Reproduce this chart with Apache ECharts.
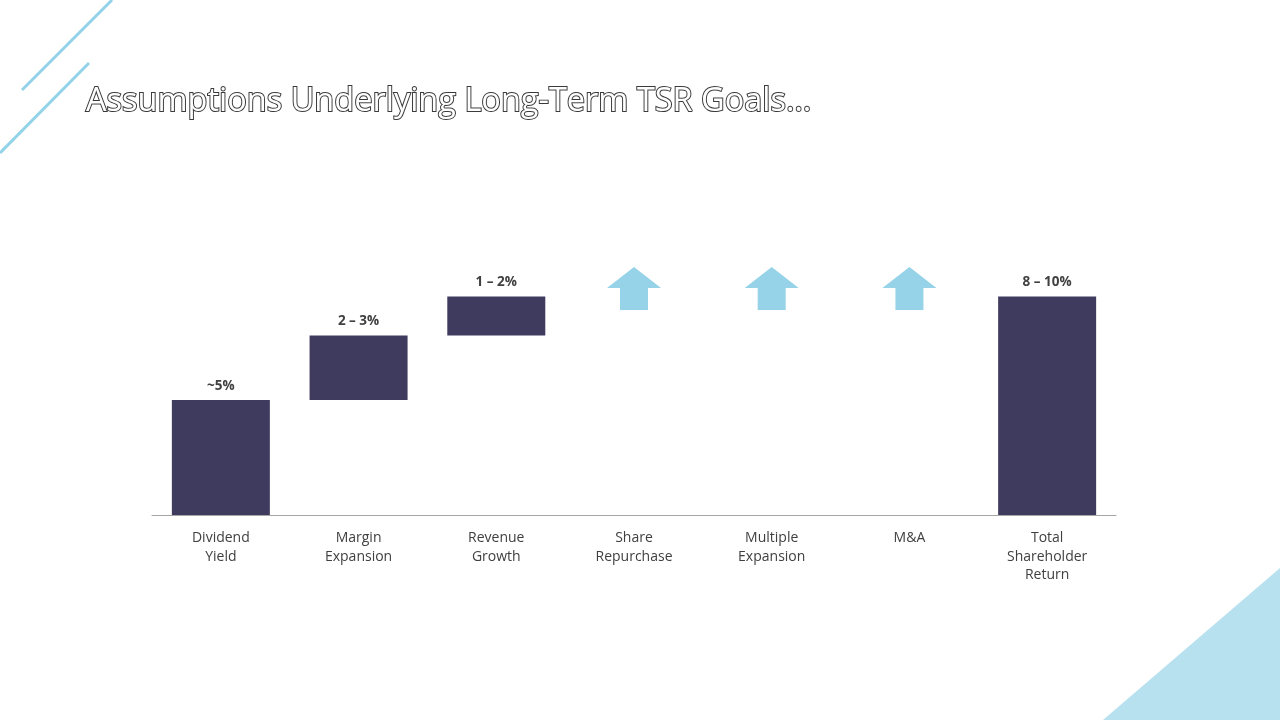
<!DOCTYPE html>
<html>
<head>
<meta charset="utf-8">
<script src="https://cdn.jsdelivr.net/npm/echarts@6/dist/echarts.min.js"></script>
<style>
  html, body { margin: 0; padding: 0; background: #fff; }
  #main { width: 1280px; height: 720px; }
</style>
</head>
<body>
<div id="main"></div>
<script>
// chart data
var categories = ['Dividend\nYield', 'Margin\nExpansion', 'Revenue\nGrowth', 'Share\nRepurchase',
                  'Multiple\nExpansion', 'M&A', 'Total\nShareholder\nReturn'];
var stepValues = [5, 2.8, 1.7, null, null, null, null];   // waterfall steps
var totalValue = 9.5;                                       // total bar
var barLabels = ['~5%', '2 – 3%', '1 – 2%', '', '', '', '8 – 10%'];
var arrowLevel = [null, null, null, 9.85, 9.85, 9.85, null]; // upside items, no value given

// build base (invisible) and visible parts of the waterfall
var base = [], visible = [], run = 0;
for (var i = 0; i < categories.length; i++) {
    if (stepValues[i] != null) {
        base.push(run);
        visible.push(stepValues[i]);
        run += stepValues[i];
    } else if (i === categories.length - 1) {
        base.push(0);
        visible.push(totalValue);
    } else {
        base.push('-');
        visible.push('-');
    }
}

var myChart = echarts.init(document.getElementById('main'));
var option = {
    backgroundColor: '#ffffff',
    animation: false,
    title: {
        text: 'Assumptions Underlying Long-Term TSR Goals\u2026',
        left: 81,
        top: 80,
        textStyle: {
            fontFamily: 'Open Sans',
            fontSize: 32.5,
            fontWeight: 'normal',
            color: '#ffffff',
            textBorderColor: '#3a3a3a',
            textBorderWidth: 2
        }
    },
    grid: { left: 152, right: 164, top: 239, bottom: 205 },
    xAxis: {
        type: 'category',
        data: categories,
        axisLine: { lineStyle: { color: '#a6a6a6', width: 1 } },
        axisTick: { show: false },
        axisLabel: {
            interval: 0,
            margin: 14,
            color: '#404040',
            fontFamily: 'Open Sans',
            fontSize: 14,
            lineHeight: 18.5
        }
    },
    yAxis: { type: 'value', min: 0, max: 12, show: false, splitLine: { show: false } },
    series: [
        {
            type: 'bar',
            stack: 'wf',
            barWidth: 98,
            itemStyle: { color: 'transparent' },
            data: base,
            silent: true
        },
        {
            type: 'bar',
            stack: 'wf',
            barWidth: 98,
            itemStyle: { color: '#3f3b5e' },
            data: visible,
            label: {
                show: true,
                position: 'top',
                distance: 7,
                color: '#404040',
                fontFamily: 'Open Sans',
                fontWeight: 'bold',
                fontSize: 13.5,
                formatter: function (p) { return barLabels[p.dataIndex]; }
            }
        },
        {
            type: 'scatter',
            data: arrowLevel,
            symbol: 'path://M27,0 L54,21 L41,21 L41,43 L13,43 L13,21 L0,21 Z',
            symbolSize: [54, 43],
            itemStyle: { color: '#96d3e8', opacity: 1 }
        }
    ],
    graphic: [
        { type: 'line', shape: { x1: 22, y1: 90, x2: 112, y2: 0 },
          style: { stroke: '#93d3ea', lineWidth: 3 } },
        { type: 'line', shape: { x1: 0, y1: 153, x2: 89, y2: 63 },
          style: { stroke: '#93d3ea', lineWidth: 3 } },
        { type: 'polygon', shape: { points: [[1103, 720], [1280, 568], [1280, 720]] },
          style: { fill: '#b7e1ef' } }
    ]
};
myChart.setOption(option);
</script>
</body>
</html>
